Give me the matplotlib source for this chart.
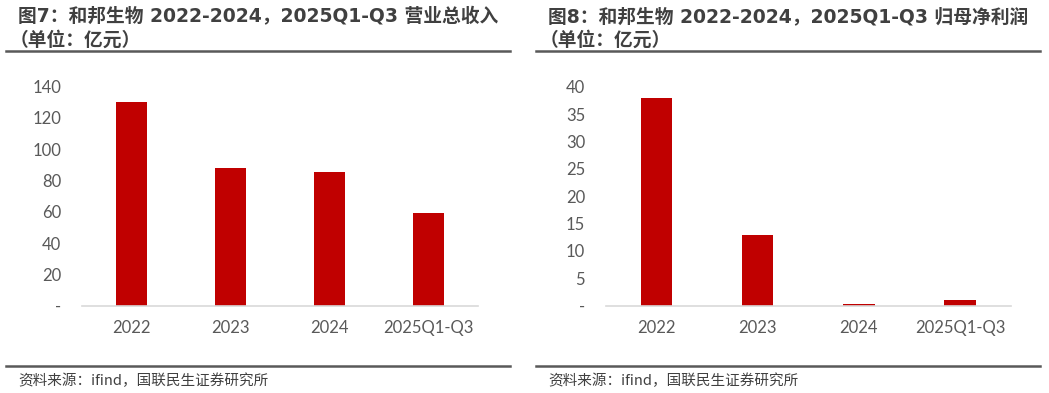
import matplotlib

matplotlib.use("Agg")
import matplotlib.pyplot as plt
from matplotlib.lines import Line2D

plt.rcParams["font.family"] = ["Noto Sans CJK SC", "DejaVu Sans"]

# --- data ---------------------------------------------------------------------
categories = ["2022", "2023", "2024", "2025Q1-Q3"]
revenue = [130.2, 88.2, 85.3, 59.3]          # 营业总收入, 亿元
net_profit = [38.0, 12.85, 0.3, 0.97]       # 归母净利润, 亿元

rev_ticks = [0, 20, 40, 60, 80, 100, 120, 140]
np_ticks = [0, 5, 10, 15, 20, 25, 30, 35, 40]

titles = [
    "图7：和邦生物 2022-2024，2025Q1-Q3 营业总收入",
    "图8：和邦生物 2022-2024，2025Q1-Q3 归母净利润",
]
unit_line = "（单位：亿元）"
source = "资料来源：ifind，国联民生证券研究所"

BAR = "#c00000"
TXT = "#404040"
TICK = "#595959"

W, H = 1049, 393
fig = plt.figure(figsize=(W / 100, H / 100), dpi=100)


def px(x0, y0, x1, y1):
    """pixel box (top-left origin) -> figure rect"""
    return [x0 / W, 1 - y1 / H, (x1 - x0) / W, (y1 - y0) / H]


panels = [
    (px(82, 86.7, 477.7, 305.7), revenue, rev_ticks, 140, 0),
    (px(606, 86.7, 1010.7, 305.7), net_profit, np_ticks, 40, 530),
]

title_family = ["DejaVu Sans", "Noto Sans CJK SC"]

for i, (rect, vals, ticks, top, xoff) in enumerate(panels):
    ax = fig.add_axes(rect)
    xs = range(len(categories))
    ax.bar(xs, vals, width=0.31, color=BAR, linewidth=0)
    ax.set_xlim(-0.5, len(categories) - 0.5)
    ax.set_ylim(0, top)
    ax.set_yticks(ticks)
    ax.set_yticklabels(["-"] + [str(t) for t in ticks[1:]])
    ax.set_xticks(list(xs))
    ax.set_xticklabels(categories)
    for s in ["top", "right", "left"]:
        ax.spines[s].set_visible(False)
    ax.spines["bottom"].set_color("#d9d9d9")
    ax.spines["bottom"].set_linewidth(1.2)
    ax.tick_params(axis="both", length=0, labelsize=12, labelcolor=TICK)
    ax.tick_params(axis="y", pad=15)
    ax.tick_params(axis="x", pad=10)
    for lab in ax.get_xticklabels() + ax.get_yticklabels():
        lab.set_family(["Lato", "DejaVu Sans"])

    # titles
    fig.text((xoff + 18) / W, 1 - 17 / H, titles[i], fontsize=13.5,
             fontweight="bold", color=TXT, va="center", ha="left",
             family=title_family)
    fig.text((xoff + 10) / W, 1 - 40 / H, unit_line, fontsize=13.5,
             fontweight="bold", color=TXT, va="center", ha="left",
             family=title_family)
    fig.add_artist(Line2D([(xoff + 6) / W, (xoff + 510) / W], [1 - 51 / H] * 2,
                          color="#595959", lw=1.8))
    fig.add_artist(Line2D([(xoff + 6) / W, (xoff + 510) / W], [1 - 365.5 / H] * 2,
                          color="#595959", lw=1.8))
    fig.text((xoff + 18) / W, 1 - 381 / H, source, fontsize=10.5,
             color=TXT, va="center", ha="left")

fig.savefig("out.png", dpi=100)
